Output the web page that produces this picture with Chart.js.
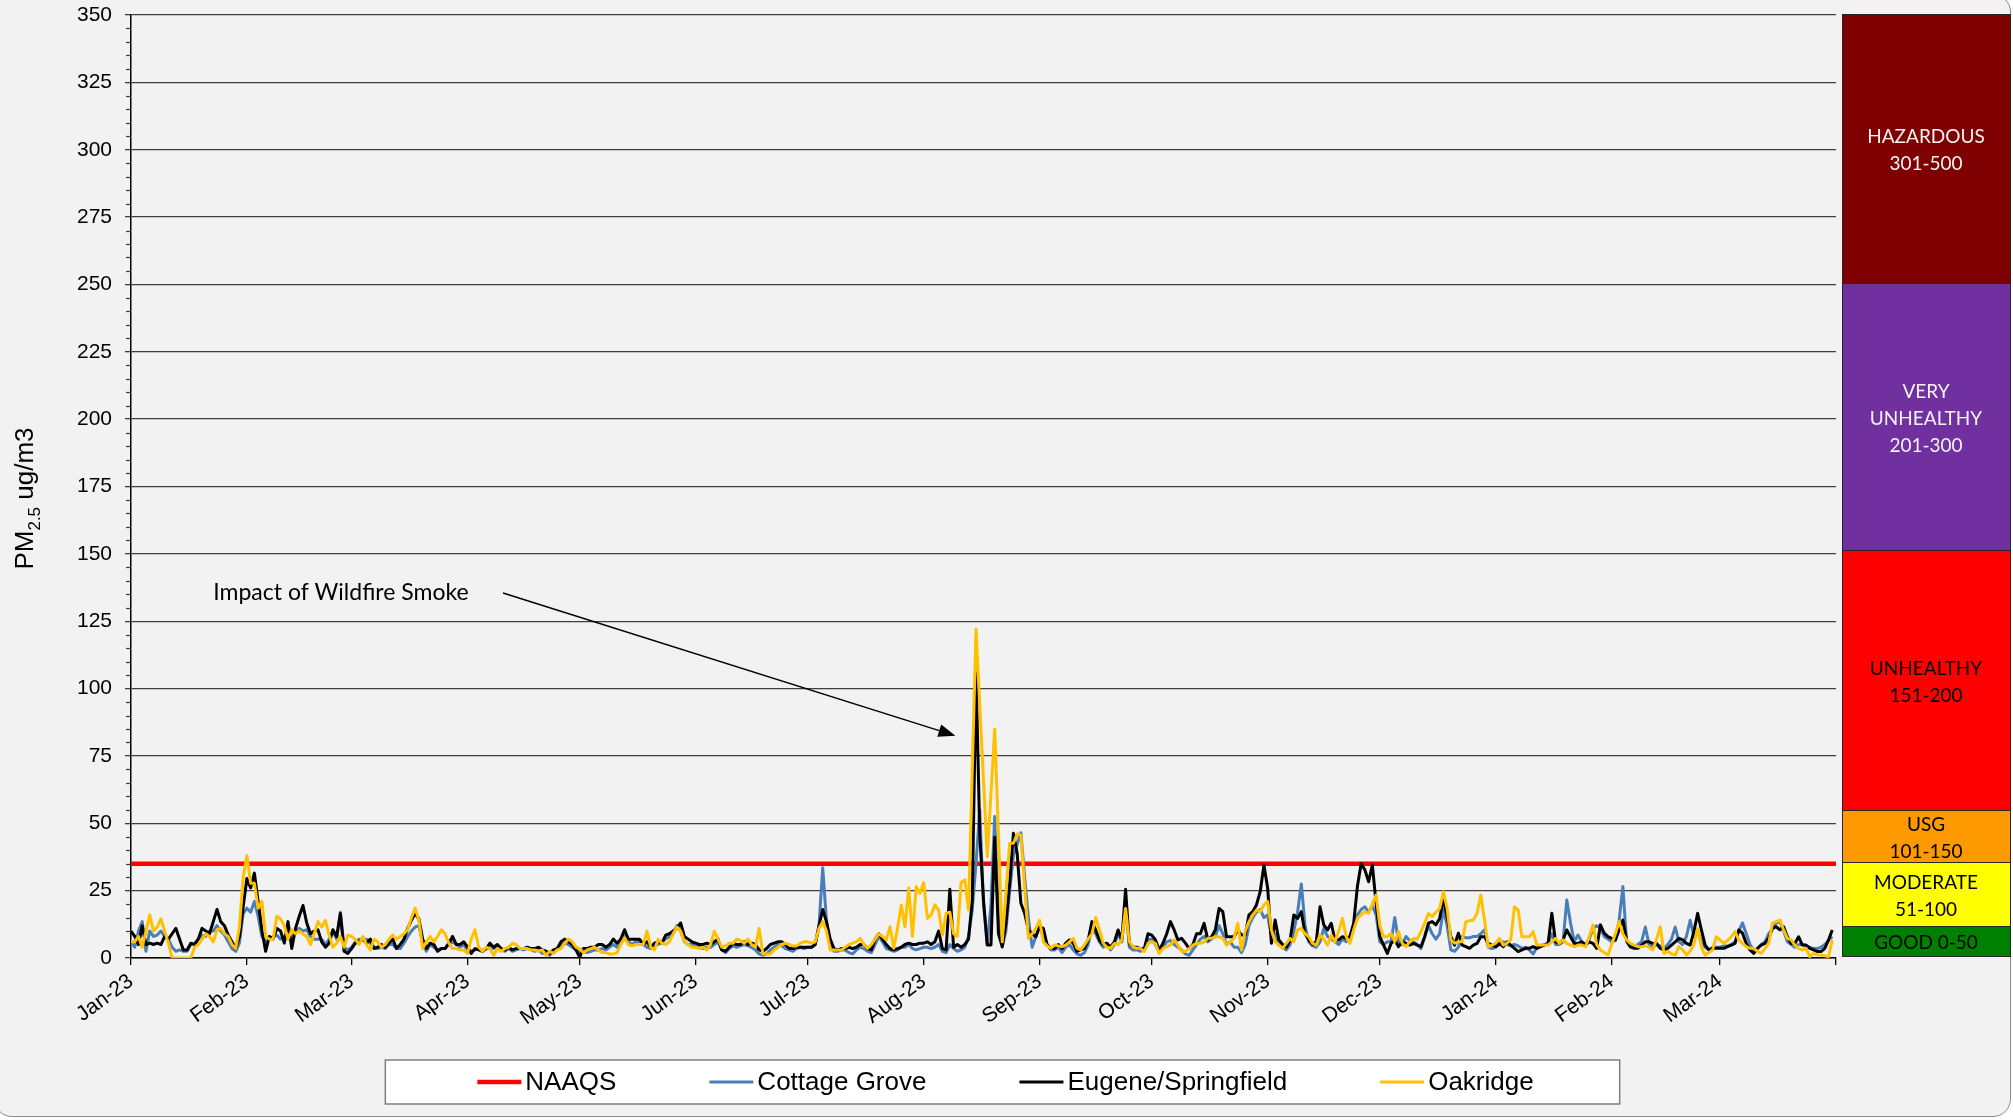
<!DOCTYPE html>
<html>
<head>
<meta charset="utf-8">
<title>PM2.5 Lane County</title>
<script src="https://cdn.jsdelivr.net/npm/chart.js@4.4.1/dist/chart.umd.min.js"></script>
<style>
  html, body { margin: 0; padding: 0; background: #ffffff; }
  .frame { position: absolute; left: -6px; top: -6px; width: 2017px; height: 1123px; box-sizing: border-box;
           background: #f2f2f2; border: 1.5px solid #8a8a8a; border-radius: 18px; }
  #pm25 { position: absolute; left: 0; top: 0; }
</style>
</head>
<body>
<div class="frame"></div>
<canvas id="pm25" width="2013" height="1120"></canvas>
<script>
// daily PM2.5 (ug/m3), day 0 = 1 Jan 2023 ... day 455 = 31 Mar 2024
const cottageGrove = [
  6, 4, 10, 13.5, 2.5, 10, 8, 8.5, 10, 8,
  7, 4, 2.5, 3, 2.5, 2.5, 5, 5.5, 7, 8.5,
  8, 10, 10, 12, 10, 8.5, 6, 3.5, 2.5, 5.5,
  16.5, 18.5, 17, 21, 15.5, 8, 6, 7, 8, 8.5,
  7, 8, 8, 7, 10, 11, 10, 10.5, 8, 7,
  7, 7, 5, 7, 10, 7, 17, 4, 3, 4,
  6, 7, 7, 7, 5.5, 4, 3.5, 4, 3.5, 5,
  5, 3.5, 3.5, 5.5, 8, 10, 11.5, 12, 5.5, 2.5,
  5, 4, 3, 3.5, 3.5, 5, 6, 5, 4, 5,
  3, 2.5, 3, 3.5, 2.5, 3.5, 4, 3.5, 4, 3,
  2.5, 3.5, 2.5, 3, 3.5, 3, 3.5, 3, 2.5, 3,
  1.7, 1.7, 1, 2.5, 3.5, 5, 5.5, 5, 4, 3,
  2, 2.5, 2, 2.5, 3, 3, 3.5, 3, 4, 5,
  4, 6, 8, 6, 5, 6, 6, 5, 4, 3.5,
  5, 5, 6, 7, 8, 9, 12, 10, 6, 5,
  5, 4.5, 4, 3.5, 4, 4, 5, 6, 3, 2,
  3.5, 4.5, 4, 4.5, 5, 4.5, 4, 3, 1.5, 1,
  1.5, 3, 4, 5, 4.5, 3.5, 3, 2.5, 3.5, 4,
  3.5, 4, 4, 5, 12, 33.5, 14, 4, 2.5, 2.5,
  3, 3, 2, 1.5, 3, 4, 3.5, 2.5, 2, 5,
  8, 6, 3.5, 3, 2.5, 3, 4, 4, 5, 3.5,
  3, 3.5, 4, 4, 3.5, 4, 5, 2.5, 2, 5,
  3.5, 2.5, 3, 4, 8, 18, 35, 55, 20, 5,
  20, 52.5, 15, 4, 10, 25, 38, 42, 46.5, 30,
  15, 4, 8, 12, 8, 5, 3, 3, 4, 2,
  4, 5, 3, 1.5, 1, 2, 5, 11, 9, 6,
  4, 5, 3, 5, 9, 6, 19, 4, 3, 3,
  2.5, 3, 7, 7, 5, 2, 4, 6, 6.5, 5,
  4, 3, 1.5, 1, 3, 5, 7, 8, 6, 7,
  8, 12, 9, 5, 6, 4, 4, 2, 5, 12,
  15, 17, 18, 15, 16, 8, 9, 5, 4, 3,
  5, 10, 17, 27.5, 12, 6, 4.5, 4, 6, 11,
  8, 7, 6, 5, 7, 6, 8, 12, 16, 18,
  19, 17, 19.5, 16, 6, 5, 6, 6, 15, 6,
  5, 8, 6.5, 6, 5, 3.5, 8, 12, 9, 7,
  9, 18, 12, 3, 2.5, 4, 8, 7.5, 7.5, 8,
  8, 9, 10.5, 4, 3.5, 4, 5, 6, 5, 4.5,
  5, 4.5, 3.5, 4, 3, 1.5, 4, 4.5, 5, 5.5,
  9, 5, 5, 6, 21.5, 13, 6, 8.5, 6, 5,
  7, 11, 12, 11, 8, 7, 6, 6.5, 14, 26.5,
  6, 4, 4, 5, 6, 11.5, 5, 4, 5, 4.5,
  3.5, 5, 7, 11.5, 6, 5, 8, 14, 8, 10,
  6, 4, 3, 4, 4, 4, 4.5, 4.5, 5, 6,
  10, 13, 9, 5, 3, 3.5, 5, 6, 9, 11,
  13, 13.5, 10, 6, 5, 4, 5, 5, 4.5, 4,
  3.5, 3.5, 4, 5, 6.5, 8
];
const eugeneSpringfield = [
  10, 8, 5, 12, 5, 5.5, 5, 5.5, 5, 8,
  7, 9, 11, 7, 3, 3, 5.5, 5, 7, 11,
  10, 9, 13.5, 18, 13.5, 12, 8.5, 6, 3.5, 8,
  19, 29.5, 26, 31.5, 21, 10.5, 2.5, 8, 7, 11,
  10, 5.5, 13.5, 3.5, 11, 15.5, 19.5, 13, 9, 10,
  10.5, 6, 4, 5.5, 10.5, 8, 16.5, 2.5, 1.7, 3.5,
  5.5, 6, 7, 5.5, 7, 3.5, 4, 5, 4, 5.5,
  7, 3.5, 5, 7, 11, 14, 16.5, 14.5, 7, 3.5,
  5.5, 5, 2.5, 3.5, 3.5, 5.5, 8, 5, 5, 6,
  4, 1.7, 3.5, 3, 2.5, 3.5, 5.5, 4, 5, 3.5,
  3, 4, 3, 3.5, 3.5, 3.5, 4, 3.5, 3.5, 4,
  3, 2.5, 1.7, 3, 3.5, 6, 7, 6, 5, 3,
  0.3, 3.5, 3.5, 4, 4, 5, 5, 4, 5, 7,
  5.5, 7, 10.5, 7, 7, 7, 7, 5, 6, 4,
  5.5, 6, 5.5, 8.5, 9, 10, 11, 13, 8, 7,
  6, 5.5, 5, 5, 5.5, 5, 6, 7, 3, 2.5,
  4, 5.5, 5, 5, 6, 5, 5.5, 5, 3, 2.5,
  3.5, 5, 5.5, 6, 6, 5, 3.5, 3.5, 4, 4,
  4, 4, 4, 5, 12, 18, 13.5, 7, 3.5, 3,
  3.5, 3.5, 4, 3.5, 4, 5, 5, 3.5, 3, 7,
  9, 7, 5, 3.5, 3, 3.5, 4, 5, 5.5, 5,
  5, 5.5, 5.5, 6, 5, 6, 10, 3.5, 3, 25.5,
  4, 5, 4, 5, 7, 21.5, 106, 46, 21.5, 4.8,
  4.8, 44.8, 9, 4.2, 12.9, 27.7, 46.3, 38.9, 20.3, 16.6,
  10.4, 9, 7.9, 11.6, 11, 5, 3.5, 3.5, 5, 3.5,
  5.5, 6.7, 5.5, 2.5, 3, 3.5, 6.7, 13.5, 10.4, 6.7,
  5, 5.5, 4, 6, 10.4, 6.7, 25.5, 5.5, 4, 4,
  3.5, 3.5, 9, 8.5, 6.7, 3, 5.5, 9, 13.5, 10.4,
  6.7, 7.3, 5.5, 3.5, 5, 9, 9, 12.9, 6.7, 7.9,
  10.4, 18.4, 17.2, 7.9, 7.9, 7.9, 10.4, 8.5, 8.5, 16,
  17.2, 19.7, 24.6, 34.5, 25.9, 5.5, 14.1, 6.7, 5, 4,
  6.7, 16, 14.7, 17.2, 9, 6.7, 5, 6, 19, 12.3,
  10.4, 12.9, 6.7, 6.7, 7.9, 7.3, 7.9, 12.9, 26.5, 35.1,
  32.7, 28.3, 34.5, 20.3, 7.9, 4.8, 1.7, 5.4, 6.7, 4.2,
  6, 5.4, 4.8, 5.4, 4.8, 4.2, 7.9, 12.9, 13.5, 12.3,
  14.7, 22, 15.3, 7.9, 4.8, 9.2, 4.8, 4.2, 3.6, 4.8,
  5.4, 7.9, 7.9, 5.4, 4.8, 4.2, 5.4, 4.2, 6, 4.8,
  3.6, 2.4, 3, 3.6, 3.6, 4.2, 3.6, 4.2, 4.8, 5.4,
  16.6, 6, 5.4, 6.7, 10.4, 7.9, 5.4, 5.4, 6, 4.8,
  6, 5.4, 3.6, 12.3, 9.2, 7.9, 7.3, 6.7, 10.4, 14.1,
  6.7, 4.2, 3.6, 3.6, 4.8, 6, 6, 5.4, 5.4, 3.6,
  3, 3.6, 4.8, 6, 7.3, 6.7, 5.4, 4.8, 9.8, 16.6,
  10.4, 4.8, 3, 3.6, 3.6, 3.6, 3.6, 4.2, 4.8, 5.4,
  10.4, 9.2, 5.4, 3, 1.7, 3.6, 4.8, 5.4, 7.3, 11,
  11.6, 10.4, 11.6, 7.9, 5.4, 5.4, 7.9, 4.8, 4.8, 3.6,
  3, 2.4, 2.4, 3.6, 6.7, 10.4
];
const oakridge = [
  6, 6, 8, 4, 10, 16, 10, 11.5, 14.5, 10,
  5.5, 0, 0, 0, 0, 0, 0, 4, 5, 7,
  9, 8, 6, 10.5, 11, 9, 8, 5, 3.5, 11.5,
  30, 38, 27.7, 27.7, 18.5, 21, 8, 7, 7, 15.5,
  14.5, 12, 7, 10.5, 9, 10, 9, 8, 5, 9,
  13.5, 11.5, 14, 8.5, 4, 5.5, 8, 4, 8.5, 8,
  7, 5, 8, 5, 3, 7, 6, 4, 5, 7,
  8.5, 7, 8, 9, 10.5, 15, 18.5, 14, 3.5, 6,
  8, 6, 8, 10.5, 9, 5.5, 3.5, 3.5, 3, 3,
  1.7, 7, 10.5, 4, 2.5, 4, 3.5, 1, 3.5, 2.5,
  3.5, 4, 5.5, 5, 3.5, 3.5, 3.5, 3, 3, 2.5,
  3, 1, 2.5, 1.7, 3, 3.5, 5.5, 7, 6, 4,
  3.5, 2, 3, 3.5, 4, 3, 2, 2, 1.5, 1.5,
  2, 5, 7.5, 5, 4.5, 5, 5, 5, 10, 4,
  3, 7, 5.5, 5, 6, 9, 11.5, 10, 6, 5,
  4, 4, 3.5, 4, 3, 5, 10, 7, 4, 4.5,
  5.5, 5.5, 7, 6.5, 5.5, 7, 5, 4, 11, 1.5,
  1.5, 1.5, 3, 4, 5, 5.5, 5, 4.5, 4.5, 5.5,
  6, 6, 5.5, 6, 11, 13.5, 10, 3, 3, 3,
  3, 4, 5, 5.5, 6, 7.3, 5, 3.6, 5, 7,
  9, 8, 6.7, 11.6, 3.6, 11, 19.7, 11.6, 26, 8,
  26.5, 24, 28, 14.7, 16, 19.7, 17.8, 8.5, 16.6, 17,
  9, 8, 28, 29, 17.8, 70, 122, 94, 66, 37.6,
  61, 85, 45.7, 6, 24, 42.6, 42.6, 46, 45.7, 26,
  7.3, 9, 11, 14, 6, 4.5, 3.6, 4.8, 4.5, 4.2,
  4.8, 6, 7.3, 3.6, 3, 4.8, 7, 9, 15, 10.4,
  5.5, 4, 3.6, 5.4, 5, 6.7, 18.4, 6, 4, 3.6,
  3.6, 2.4, 5.4, 6, 5.4, 1.7, 3.6, 4.2, 4.8, 6.7,
  4.8, 2.4, 2.4, 3.6, 4.8, 5.4, 5.4, 6, 7.3, 7.3,
  7.9, 7.9, 7.3, 4.8, 6, 7.3, 12.9, 3, 10, 13.5,
  16, 17.8, 17.2, 19.7, 21, 10.4, 6, 4.8, 3.6, 5.4,
  7.3, 6, 10.4, 11, 9, 7.9, 5.4, 4.8, 8.5, 7,
  4.8, 8.5, 6, 10, 14.7, 7.9, 5.4, 10.4, 14.7, 16,
  17.2, 16.6, 20, 23.4, 12, 7.9, 7.9, 9.1, 6, 9.8,
  5.4, 4.2, 6, 7.3, 7, 9.8, 13, 16.6, 15.3, 17,
  18.4, 24.6, 18.4, 6.7, 5.5, 6, 6, 13.5, 13.8, 14.1,
  16.6, 23.4, 14.1, 4.2, 4.8, 5.5, 7.3, 4.8, 5.5, 6.7,
  19, 17.8, 7.9, 7.9, 7.9, 9.8, 4.8, 4.8, 4.8, 4.8,
  6, 7.3, 5.4, 6.7, 5.4, 4.8, 4.2, 4.8, 4.8, 4.2,
  7.9, 12.3, 5, 3, 2, 1.1, 5, 9, 13.5, 9,
  6.7, 5.4, 4.8, 4.2, 4.2, 4.5, 4, 3, 7, 11.6,
  1.7, 2.5, 1.5, 1.1, 4.2, 3, 1.1, 2.5, 5, 11,
  4, 1.1, 2, 3, 7.9, 6.7, 5.4, 6.5, 7.9, 9.8,
  6.7, 5.4, 4.2, 3.6, 3.6, 2.5, 1.7, 3.5, 5.4, 12.9,
  13.5, 14.1, 10.4, 7.3, 6.7, 4.8, 3.5, 3, 3.6, 0.5,
  1.7, 1.2, 1.1, 0.8, 0.5, 6.7
];
const naaqsLevel = 35;

// x axis: day index, ticks on the first of each month
const monthStarts = [0, 31, 59, 90, 120, 151, 181, 212, 243, 273, 304, 334, 365, 396, 425, 456];
const monthLabels = ['Jan-23', 'Feb-23', 'Mar-23', 'Apr-23', 'May-23', 'Jun-23', 'Jul-23', 'Aug-23',
  'Sep-23', 'Oct-23', 'Nov-23', 'Dec-23', 'Jan-24', 'Feb-24', 'Mar-24', ''];
const yMax = 350;
const yStep = 25;
const yMinorStep = 5;

// AQI key on the right
const aqiLabels = [['HAZARDOUS', '301-500'], ['VERY', 'UNHEALTHY', '201-300'], ['UNHEALTHY', '151-200'],
  ['USG', '101-150'], ['MODERATE', '51-100'], ['GOOD 0-50']];
const aqiColors = ['#7f0000', '#7030a0', '#ff0000', '#ff9900', '#ffff00', '#008000'];
const aqiTextColors = ['#f4f4f4', '#f4f4f4', '#000000', '#000000', '#000000', '#000000'];
const aqiBlockHeights = [269, 267, 260, 52, 64, 30];

const annotationText = 'Impact of Wildfire Smoke';
const annotationAt = { x: 22, y: 135.5 };
const arrowFrom = { x: 99.5, y: 135.5 };
const arrowTo = { x: 220.5, y: 82.5 };

const tickFont = '"Liberation Sans", Arial, sans-serif';
const calibriLike = 'Lato, "Open Sans", sans-serif';

function toPoints(values) {
  return values.map((v, i) => ({ x: i, y: v }));
}

function drawAxisTitle(ctx, area) {
  const big = '26px ' + tickFont;
  const small = '17px ' + tickFont;
  ctx.save();
  ctx.font = big;
  const w1 = ctx.measureText('PM').width;
  const w3 = ctx.measureText(' ug/m3').width;
  ctx.font = small;
  const w2 = ctx.measureText('2.5').width;
  ctx.translate(33, (area.top + area.bottom) / 2 + 12);
  ctx.rotate(-Math.PI / 2);
  ctx.fillStyle = '#000';
  ctx.textAlign = 'left';
  ctx.textBaseline = 'alphabetic';
  let cx = -(w1 + w2 + w3) / 2;
  ctx.font = big; ctx.fillText('PM', cx, 0); cx += w1;
  ctx.font = small; ctx.fillText('2.5', cx, 7); cx += w2;
  ctx.font = big; ctx.fillText(' ug/m3', cx, 0);
  ctx.restore();
}

function drawAnnotation(ctx, x, y) {
  ctx.save();
  ctx.fillStyle = '#000';
  ctx.font = '23px ' + calibriLike;
  ctx.textAlign = 'left';
  ctx.textBaseline = 'middle';
  ctx.fillText(annotationText, x.getPixelForValue(annotationAt.x), y.getPixelForValue(annotationAt.y));
  const x1 = x.getPixelForValue(arrowFrom.x), y1 = y.getPixelForValue(arrowFrom.y);
  const x2 = x.getPixelForValue(arrowTo.x), y2 = y.getPixelForValue(arrowTo.y);
  const ang = Math.atan2(y2 - y1, x2 - x1);
  const head = 17, half = 6.5;
  ctx.strokeStyle = '#000';
  ctx.lineWidth = 1.5;
  ctx.beginPath();
  ctx.moveTo(x1, y1);
  ctx.lineTo(x2 - head * Math.cos(ang), y2 - head * Math.sin(ang));
  ctx.stroke();
  ctx.beginPath();
  ctx.moveTo(x2, y2);
  ctx.lineTo(x2 - head * Math.cos(ang) + half * Math.sin(ang), y2 - head * Math.sin(ang) - half * Math.cos(ang));
  ctx.lineTo(x2 - head * Math.cos(ang) - half * Math.sin(ang), y2 - head * Math.sin(ang) + half * Math.cos(ang));
  ctx.closePath();
  ctx.fill();
  ctx.restore();
}

function drawAqiKey(chart, area) {
  const ctx = chart.ctx;
  const left = area.right + 6, right = chart.width - 3;
  const top = area.top - 1, bottom = area.bottom - 2;
  const total = aqiBlockHeights.reduce((a, b) => a + b, 0);
  const cx = (left + right) / 2;
  let yy = top;
  ctx.save();
  aqiLabels.forEach((lines, i) => {
    const h = aqiBlockHeights[i] / total * (bottom - top);
    ctx.fillStyle = aqiColors[i];
    ctx.fillRect(left, yy, right - left, h);
    ctx.strokeStyle = '#262626';
    ctx.lineWidth = 1;
    ctx.strokeRect(left + 0.5, yy + 0.5, right - left, h);
    ctx.fillStyle = aqiTextColors[i];
    ctx.font = '19px ' + calibriLike;
    ctx.textAlign = 'center';
    ctx.textBaseline = 'middle';
    const lh = 27;
    const mid = yy + h / 2 + 2;
    lines.forEach((t, k) => {
      ctx.fillText(t, cx, mid + (k - (lines.length - 1) / 2) * lh);
    });
    yy += h;
  });
  ctx.restore();
}

function drawLegend(chart) {
  const ctx = chart.ctx;
  const items = chart.data.datasets.map(ds => ({ text: ds.label, color: ds.borderColor, lw: ds.legendWidth }));
  const sample = 44, gap = 4, itemGap = 93;
  ctx.save();
  ctx.font = '26px ' + tickFont;
  const widths = items.map(it => sample + gap + ctx.measureText(it.text).width);
  const inner = widths.reduce((a, b) => a + b, 0) + itemGap * (items.length - 1);
  const boxW = inner + 178;
  const boxLeft = chart.width / 2 - 4 - boxW / 2;
  const boxTop = 1060, boxH = 44;
  ctx.fillStyle = '#ffffff';
  ctx.fillRect(boxLeft, boxTop, boxW, boxH);
  ctx.strokeStyle = '#7f7f7f';
  ctx.lineWidth = 1.5;
  ctx.strokeRect(boxLeft, boxTop, boxW, boxH);
  let px = boxLeft + 92;
  const cy = boxTop + boxH / 2;
  items.forEach((it, i) => {
    ctx.strokeStyle = it.color;
    ctx.lineWidth = it.lw;
    ctx.beginPath();
    ctx.moveTo(px, cy);
    ctx.lineTo(px + sample, cy);
    ctx.stroke();
    ctx.fillStyle = '#000';
    ctx.textAlign = 'left';
    ctx.textBaseline = 'middle';
    ctx.fillText(it.text, px + sample + gap, cy + 1);
    px += widths[i] + itemGap;
  });
  ctx.restore();
}

const pm25Decor = {
  id: 'pm25Decor',
  afterDraw(chart) {
    const { ctx, chartArea: area, scales: { x, y } } = chart;
    ctx.save();
    ctx.strokeStyle = '#3a3a3a';
    ctx.lineWidth = 1.2;
    for (let v = 0; v <= yMax; v += yMinorStep) {
      if (v % yStep === 0) continue;
      const py = Math.round(y.getPixelForValue(v)) + 0.5;
      ctx.beginPath();
      ctx.moveTo(area.left - 5, py);
      ctx.lineTo(area.left, py);
      ctx.stroke();
    }
    ctx.restore();
    drawAxisTitle(ctx, area);
    drawAnnotation(ctx, x, y);
    drawAqiKey(chart, area);
    drawLegend(chart);
  }
};

new Chart(document.getElementById('pm25'), {
  type: 'line',
  data: {
    datasets: [
      { label: 'NAAQS', data: [{ x: monthStarts[0], y: naaqsLevel }, { x: monthStarts[monthStarts.length - 1], y: naaqsLevel }],
        borderColor: '#ff0000', borderWidth: 4.5, legendWidth: 4.5, order: 3 },
      { label: 'Cottage Grove', data: toPoints(cottageGrove), borderColor: '#4a7ebb', borderWidth: 3, legendWidth: 3, order: 2 },
      { label: 'Eugene/Springfield', data: toPoints(eugeneSpringfield), borderColor: '#000000', borderWidth: 3, legendWidth: 3, order: 1 },
      { label: 'Oakridge', data: toPoints(oakridge), borderColor: '#ffc000', borderWidth: 3, legendWidth: 3, order: 0 }
    ]
  },
  options: {
    responsive: false,
    devicePixelRatio: 1,
    animation: false,
    elements: { point: { radius: 0 }, line: { tension: 0, borderJoinStyle: 'round' } },
    layout: { padding: { top: 15, right: 177, bottom: 62, left: 0 } },
    plugins: { legend: { display: false }, tooltip: { enabled: false } },
    scales: {
      x: {
        type: 'linear',
        min: monthStarts[0],
        max: monthStarts[monthStarts.length - 1],
        afterBuildTicks: (axis) => { axis.ticks = monthStarts.map(v => ({ value: v })); },
        afterFit: (axis) => { axis.height = 100; axis.paddingLeft = 0; axis.paddingRight = 0; },
        ticks: {
          autoSkip: false,
          minRotation: 36,
          maxRotation: 36,
          padding: 4,
          color: '#000',
          font: { family: tickFont, size: 21 },
          callback: (value) => {
            const i = monthStarts.indexOf(value);
            return i >= 0 ? monthLabels[i] : '';
          }
        },
        grid: { drawOnChartArea: false, drawTicks: true, tickLength: 7, color: '#000', lineWidth: 1.3 },
        border: { color: '#000', width: 1.5 }
      },
      y: {
        min: 0,
        max: yMax,
        afterFit: (axis) => { axis.width = 131; axis.paddingTop = 0; axis.paddingBottom = 0; },
        ticks: { stepSize: yStep, padding: 13, color: '#000', font: { family: tickFont, size: 21 } },
        grid: { color: '#3f3f3f', lineWidth: 1.3, tickLength: 6 },
        border: { color: '#000', width: 1.5 }
      }
    }
  },
  plugins: [pm25Decor]
});
</script>
</body>
</html>
